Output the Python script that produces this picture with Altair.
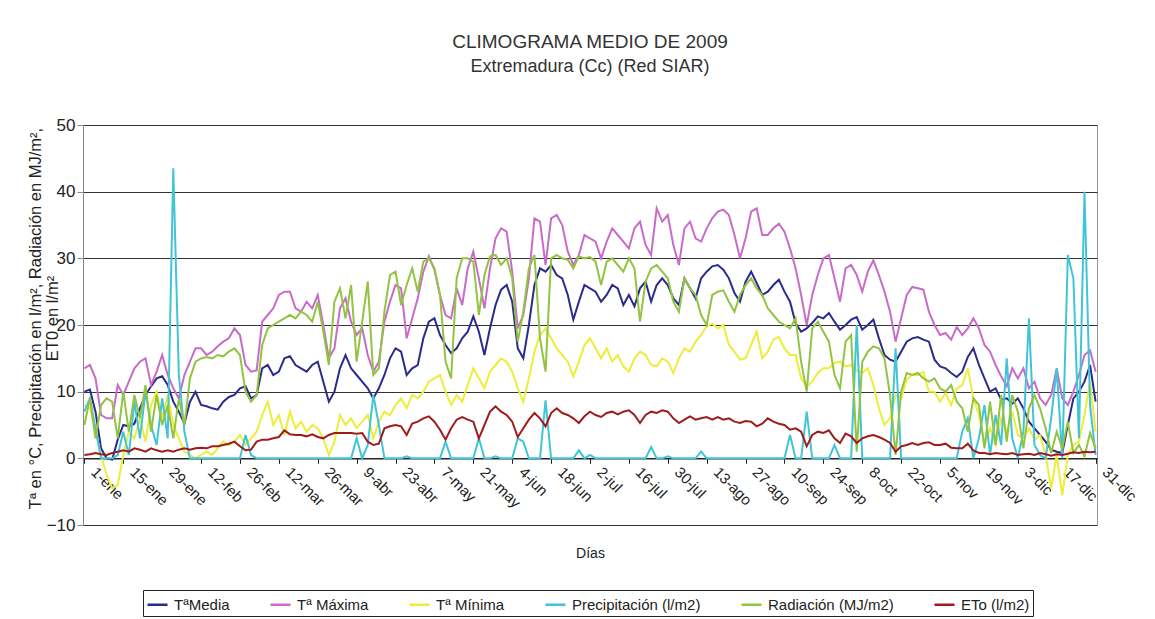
import altair as alt
import pandas as pd

# ---------------- data (every 2nd day) ----------------
DAYS = list(range(0, 365, 2))

SERIES = ["TªMedia", "Tª Máxima", "Tª Mínima", "Precipitación (l/m2)",
          "Radiación (MJ/m2)", "ETo (l/m2)"]
COLORS = ["#2B2B8C", "#C86CC8", "#EDED3A", "#40C4D8", "#92C441", "#A01C1C"]

TICK_DAYS = list(range(0, 365, 14))
TICK_LABELS = ["1-ene", "15-ene", "29-ene", "12-feb", "26-feb", "12-mar", "26-mar",
               "9-abr", "23-abr", "7-may", "21-may", "4-jun", "18-jun", "2-jul",
               "16-jul", "30-jul", "13-ago", "27-ago", "10-sep", "24-sep", "8-oct",
               "22-oct", "5-nov", "19-nov", "3-dic", "17-dic", "31-dic"]

MEDIA = [
    10.0, 10.3, 7.0, 1.5, 0.0, -0.2, 2.8,
    5.0, 4.8, 5.2, 7.5, 9.5, 10.8, 12.0,
    12.3, 11.0, 8.5, 7.0, 5.2, 8.5, 10.0,
    8.0, 7.8, 7.5, 7.3, 8.5, 9.2, 9.5,
    10.5, 10.8, 9.0, 9.5, 13.5, 14.0, 12.5,
    13.0, 15.0, 15.3, 14.0, 13.5, 13.0, 14.0,
    14.5, 11.5, 8.5, 10.0, 13.5, 15.5, 13.5,
    12.5, 11.5, 10.5, 9.0, 10.5, 12.5, 15.0,
    16.5, 16.0, 12.5, 13.5, 14.0, 18.0, 20.5,
    21.0, 18.5, 17.0, 15.8, 16.5, 18.0, 19.0,
    21.3, 19.0, 15.5, 19.5, 23.0, 25.3, 26.0,
    23.5, 16.5, 15.0, 20.0, 26.0, 28.5, 28.0,
    29.0, 27.5, 27.0, 24.5, 20.8, 23.5, 26.0,
    25.5, 25.0, 23.5, 24.5, 26.0, 25.5, 23.0,
    24.5, 22.8, 25.5, 26.5, 23.5, 26.0, 27.0,
    26.0, 24.0, 23.0, 27.0, 25.5, 24.0, 27.0,
    28.0, 28.8, 29.0, 28.3, 27.0, 24.8, 23.5,
    26.5, 28.0, 26.3, 24.5, 25.0, 26.0, 26.8,
    25.0, 23.5, 20.3, 19.0, 19.5, 20.3, 21.3,
    21.0, 21.8, 20.5, 19.3, 20.0, 20.8, 21.2,
    19.3, 20.0, 20.8, 18.0, 15.5, 14.8, 14.5,
    16.0, 17.5, 18.0, 18.2, 17.8, 17.5, 14.8,
    13.8, 13.5, 12.8, 12.2, 13.0, 15.2, 16.5,
    14.0, 12.0, 10.0, 10.5, 8.8, 9.0, 8.2,
    9.0, 7.5, 5.5, 4.5, 3.5, 2.5, 1.3,
    1.0, 0.8, 5.0, 9.0, 10.0, 11.5, 14.0,
    8.5,
]

MAXIMA = [
    13.5, 14.0, 12.0, 6.5, 6.0, 6.0, 11.0,
    9.5, 11.5, 13.5, 14.5, 15.0, 11.0, 13.0,
    15.5, 12.5, 10.5, 9.0, 12.5, 14.5, 16.5,
    16.5, 15.5, 16.0, 16.8, 17.5, 18.0, 19.5,
    18.5, 14.0, 13.0, 13.2, 20.5, 21.5, 22.5,
    24.5, 25.0, 25.0, 22.5, 22.0, 23.5, 22.5,
    24.5, 20.0, 15.0, 16.5, 22.5, 24.0, 20.5,
    18.5, 19.5, 15.5, 13.0, 14.5, 20.5, 23.5,
    26.0, 25.5, 18.0, 21.0, 24.0, 28.0, 30.3,
    28.3, 24.5, 21.5, 21.0, 25.5, 23.0, 28.5,
    31.0, 27.0, 22.5, 28.5, 33.0, 34.5, 34.0,
    28.0, 19.5, 21.5, 27.0, 36.0, 35.5, 29.0,
    36.0, 36.5, 35.0, 31.0, 29.0, 30.5, 33.5,
    33.0, 32.5, 30.0, 32.5, 34.5, 33.5, 32.5,
    31.5, 34.5, 35.5, 32.0, 30.5, 37.5, 35.5,
    36.5, 32.0, 29.0, 34.5, 35.5, 33.0, 32.5,
    34.5, 36.0, 37.0, 37.3, 36.5, 33.5, 30.0,
    33.0, 37.0, 37.5, 33.5, 33.5, 34.5, 35.2,
    34.0, 31.5, 28.5, 24.5, 20.0, 24.5, 27.5,
    30.0, 30.5, 27.0, 23.5, 28.5, 29.0, 27.5,
    25.0, 28.0, 29.7, 27.5, 25.0, 22.0, 17.5,
    21.0, 24.5, 25.7, 25.5, 25.3, 22.0, 20.0,
    18.5, 18.8, 17.8, 19.7, 18.5, 19.5, 21.0,
    19.5, 17.0, 16.0, 14.0, 12.3, 10.8, 13.5,
    12.0, 13.5, 10.5, 11.5, 9.0, 8.0, 9.5,
    13.5, 9.0, 8.0, 10.0, 12.5, 15.5, 16.2,
    13.0,
]

MINIMA = [
    8.0, 7.5, 4.0, 0.5, -2.5, -4.5, -4.0,
    0.5, 4.0, 3.0, 6.0, 2.5, 8.0, 10.0,
    6.0, 9.5, 5.0, 3.0, 1.0, 0.5, 0.0,
    0.5, 1.0, 0.5, 1.5, 2.5, 2.0, 2.5,
    3.5, 2.0, 3.0, 4.0, 6.5, 8.5, 5.0,
    6.5, 3.5, 7.0, 4.5, 5.5, 4.0, 5.0,
    4.5, 3.0, 0.5, 2.5, 6.5, 5.0, 6.0,
    4.5, 5.5, 6.5, 3.0, 5.5, 7.0, 6.5,
    8.0, 9.0, 7.5, 9.5, 9.0, 10.0, 11.5,
    12.0, 12.5, 10.0, 8.0, 9.5, 8.5, 11.0,
    13.5, 12.0, 10.5, 13.0, 14.0, 15.0, 14.5,
    13.0, 10.5, 8.5, 12.0, 16.0, 18.5, 19.5,
    18.0, 16.5, 15.5, 14.5, 12.3, 14.5, 17.0,
    18.0, 16.5, 15.0, 16.5, 14.5, 15.5, 13.8,
    13.0, 15.0, 16.0, 15.5, 14.0, 13.8, 15.0,
    14.5, 12.8, 15.0, 16.5, 16.0, 17.5, 18.5,
    19.8, 20.2, 19.5, 20.0, 17.0, 16.0, 14.8,
    15.0, 17.0, 19.0, 15.0, 16.0, 17.8, 18.2,
    16.5, 15.5, 15.5, 12.0, 10.8, 11.5, 12.8,
    13.5, 13.5, 14.3, 14.5, 13.8, 14.0, 13.2,
    12.8, 13.5, 11.0, 7.5, 5.0, 6.0, 9.5,
    9.0, 11.8, 12.5, 12.5, 13.0, 10.0, 10.0,
    8.5, 9.8, 8.0, 10.5, 11.0, 13.5, 9.0,
    6.5, 2.0, 4.5, 2.0, 6.0, 4.0, 7.0,
    3.5, 3.0, 4.5, 2.8, 3.5, 0.5, -4.5,
    0.5, -5.5, 0.5, 2.0, 2.5, 6.5, 11.5,
    4.0,
]

PRECIP = [
    7.0, 9.0, 4.5, 0.0, 0.0, 0.0, 0.5,
    4.0, 0.5, 8.5, 3.0, 10.0, 5.0, 2.0,
    9.0, 3.0, 43.5, 12.5, 4.0, 0.0, 0.0,
    0.0, 0.0, 0.0, 0.0, 0.0, 0.0, 0.0,
    0.0, 3.5, 0.5, 0.0, 0.0, 0.0, 0.0,
    0.0, 0.0, 0.0, 0.0, 0.0, 0.0, 0.0,
    0.0, 0.0, 0.0, 0.0, 0.0, 0.0, 0.0,
    3.0, 0.0, 2.0, 9.5, 5.0, 0.0, 0.0,
    0.0, 0.0, 0.3, 0.0, 0.0, 0.0, 0.0,
    0.0, 0.0, 2.5, 0.0, 0.0, 0.0, 0.0,
    0.0, 3.0, 0.0, 0.0, 0.3, 0.0, 0.0,
    0.0, 3.0, 2.5, 0.0, 0.0, 0.0, 8.7,
    0.0, 0.0, 0.0, 0.0, 0.0, 1.2, 0.0,
    0.5, 0.0, 0.0, 0.0, 0.0, 0.0, 0.0,
    0.0, 0.0, 0.0, 0.0, 1.7, 0.0, 0.0,
    0.3, 0.0, 0.0, 0.0, 0.0, 0.0, 1.0,
    0.0, 0.0, 0.0, 0.0, 0.0, 0.0, 0.0,
    0.0, 0.0, 0.0, 0.0, 0.0, 0.0, 0.0,
    0.0, 3.5, 0.0, 0.0, 7.0, 0.0, 0.0,
    0.0, 0.0, 2.0, 0.0, 0.0, 0.0, 20.0,
    0.0, 0.0, 0.0, 0.0, 0.0, 0.0, 16.5,
    0.0, 0.0, 0.0, 0.0, 0.0, 0.0, 0.0,
    0.0, 0.0, 0.0, 0.0, 4.0, 6.0, 0.0,
    3.0, 8.0, 0.5, 6.5, 2.0, 15.0, 3.0,
    0.0, 4.0, 21.0, 2.0, 0.5, 0.0, 6.0,
    13.5, 0.0, 30.5, 27.0, 3.0, 40.0, 8.0,
    0.5,
]

RADIACION = [
    5.0, 9.0, 3.0, 8.0, 9.0, 8.5, 3.0,
    10.0, 4.0, 9.5, 6.0, 11.0, 4.0, 9.5,
    5.0, 8.0, 3.0, 9.0, 5.0, 12.0, 14.5,
    15.0, 15.2, 15.0, 15.5, 15.3, 16.0, 16.5,
    15.5, 10.0, 8.5, 9.5, 17.0, 19.5, 20.0,
    20.5, 21.0, 21.5, 21.0, 22.0, 21.5, 20.5,
    23.5, 19.0, 14.0, 23.5, 25.5, 21.0, 26.0,
    14.5, 20.5, 26.5, 12.5, 13.5, 22.0, 27.5,
    28.0, 23.0, 26.0, 28.5, 25.0, 29.5, 30.0,
    28.5, 24.5, 14.5, 12.0, 27.0, 30.0, 30.0,
    29.5, 21.5, 27.5, 30.3, 30.5, 29.0, 30.0,
    27.0, 17.5, 22.0, 28.5, 30.5, 18.0, 13.0,
    30.0, 30.5, 30.0, 29.8, 28.5, 30.3, 30.0,
    30.2, 29.5, 26.0, 29.5, 30.0, 29.0, 28.0,
    30.0, 28.5, 20.5, 26.5, 28.5, 29.0, 28.0,
    27.0, 23.5, 22.0, 27.0, 25.5, 24.5, 21.5,
    20.0, 24.5, 25.0, 25.2, 23.5, 22.0, 24.5,
    26.0, 27.0, 25.5, 24.5, 22.5, 21.5, 20.5,
    20.0, 19.5, 21.0, 14.5, 10.0, 19.5, 20.5,
    19.0, 17.5, 12.5, 10.5, 17.5, 18.5, 1.0,
    14.5, 16.0, 16.8, 16.5, 15.0, 9.5, 0.5,
    10.0, 12.8, 12.5, 12.8, 12.0, 11.5, 12.0,
    10.5, 10.0, 11.0, 8.5, 7.5, 4.0, 9.0,
    8.0, 1.5, 8.5, 2.0, 9.5, 2.5, 9.5,
    7.0, 1.5, 7.5, 9.5, 7.5, 4.5, 0.8,
    4.0, 1.5, 5.5, 0.8, 2.0, 0.3, 3.8,
    1.5,
]

ETO = [
    0.5, 0.6, 0.8, 0.6, 0.5, 0.8, 1.0,
    1.2, 1.0, 1.5, 1.3, 1.0, 1.5, 1.2,
    1.0, 1.2, 1.0, 1.3, 1.5, 1.3, 1.5,
    1.6, 1.5, 1.8, 1.8, 2.0, 2.2, 2.5,
    1.8, 1.2, 1.3, 2.5, 2.8, 2.8, 3.0,
    3.2, 4.2, 3.6, 3.5, 3.5, 3.3, 3.6,
    3.2, 3.0, 3.5, 3.8, 3.8, 3.8, 3.8,
    3.7, 3.8, 2.5, 2.0, 2.2, 4.5, 4.8,
    5.0, 4.8, 3.5, 5.2, 5.5, 6.0, 6.3,
    5.5, 4.3, 2.8, 4.5, 5.8, 6.2, 5.8,
    5.5, 3.0, 5.0, 7.0, 7.8, 7.0, 6.5,
    5.5, 3.2, 4.5, 5.8, 6.8, 6.0, 4.8,
    6.8, 7.5, 6.8, 6.5, 6.0, 5.3, 6.3,
    7.0, 6.5, 6.2, 6.8, 7.0, 6.6, 7.0,
    7.2, 6.5, 5.3, 6.5, 7.0, 6.8, 7.2,
    7.0, 6.0, 5.3, 5.8, 6.3, 5.8, 6.0,
    6.2, 5.8, 6.2, 5.8, 6.0, 5.5, 5.3,
    5.6, 5.5, 4.8, 5.2, 6.0, 5.5, 5.2,
    5.0, 4.3, 4.5, 4.0, 1.8, 3.5, 4.0,
    3.8, 4.2, 3.0, 2.3, 3.7, 3.3, 2.3,
    3.0, 3.3, 3.5, 3.2, 2.8, 2.3, 1.0,
    1.8, 2.0, 2.3, 2.0, 2.3, 2.4, 2.0,
    2.0, 2.2, 1.6, 1.5, 1.5, 2.2, 1.2,
    0.8, 0.8, 0.6, 0.8, 0.7, 0.6, 0.8,
    0.5, 0.6, 0.7, 0.5, 0.8, 0.6, 0.4,
    0.6, 0.5, 0.7, 0.9, 0.8, 1.0, 0.9,
    1.0,
]

# ---------------- build long table ----------------
rows = []
for name, vals in zip(SERIES, [MEDIA, MAXIMA, MINIMA, PRECIP, RADIACION, ETO]):
    for d, v in zip(DAYS, vals):
        rows.append({"dia": d, "valor": v, "serie": name})
df = pd.DataFrame(rows)

FONT = "Liberation Sans"
label_expr = "[" + ",".join("'%s'" % s for s in TICK_LABELS) + "][round(datum.value / 14)]"

x_enc = alt.X(
    "dia:Q",
    scale=alt.Scale(domain=[-0.5, 364.5], nice=False, zero=False),
    axis=alt.Axis(
        values=TICK_DAYS, labelExpr=label_expr, labelAngle=45,
        labelAlign="left", labelBaseline="middle", labelPadding=6, labelOffset=9,
        labelFont=FONT, labelFontSize=15, labelColor="#222", labelOverlap=False,
        labelFlush=False, grid=False, offset=-66.67,
        domainColor="#222", domainWidth=1.2, tickColor="#222", tickSize=5,
        title="Días", titleFont=FONT, titleFontSize=14, titleFontWeight="normal",
        titleColor="#222", titleY=88,
    ),
)
y_enc = alt.Y(
    "valor:Q",
    scale=alt.Scale(domain=[-10, 50], nice=False, zero=False),
    axis=alt.Axis(
        values=[-10, 0, 10, 20, 30, 40, 50], grid=True, gridColor="#333",
        gridWidth=1.2, domainColor="#888", tickColor="#888", tickSize=6,
        labelFont=FONT, labelFontSize=17, labelColor="#222", labelPadding=2,
        title=["Tª en °C, Precipitación en l/m², Radiación en MJ/m²,", "ET0 en l/m²"],
        titleFont=FONT, titleFontSize=16.5, titleFontWeight="normal", titleColor="#222",
        titleAngle=-90, titleAlign="center", titleBaseline="bottom",
        titleX=-40, titleY=193, titleLineHeight=17,
    ),
)
color_enc = alt.Color(
    "serie:N",
    scale=alt.Scale(domain=SERIES, range=COLORS),
    title=None,
    legend=alt.Legend(
        orient="none", legendX=60, legendY=465, direction="horizontal",
        symbolType="stroke", symbolSize=400, symbolStrokeWidth=2.5,
        labelFont=FONT, labelFontSize=15, labelColor="#222", labelOffset=5,
        columnPadding=35, padding=3, strokeColor="#222", fillColor="white",
        labelLimit=300,
    ),
)

layers = []
for s in SERIES:
    layers.append(
        alt.Chart(df)
        .transform_filter(alt.datum.serie == s)
        .mark_line(strokeWidth=2)
        .encode(x=x_enc, y=y_enc, color=color_enc)
    )

chart = (
    alt.layer(*layers)
    .properties(
        width=1014, height=400,
        autosize=alt.AutoSizeParams(type="none"),
        padding={"left": 75, "top": 117, "right": 45, "bottom": 94},
        title=alt.TitleParams(
            text="CLIMOGRAMA MEDIO DE 2009", subtitle="Extremadura (Cc) (Red SIAR)",
            font=FONT, fontSize=19, fontWeight="normal", color="#333",
            subtitleFont=FONT, subtitleFontSize=18, subtitleColor="#333",
            subtitlePadding=6, anchor="middle", offset=40,
        ),
        background="white",
    )
    .configure_view(stroke="#999", strokeWidth=1)
)

chart.save("out.html", embed_options={"renderer": "svg", "actions": False})
